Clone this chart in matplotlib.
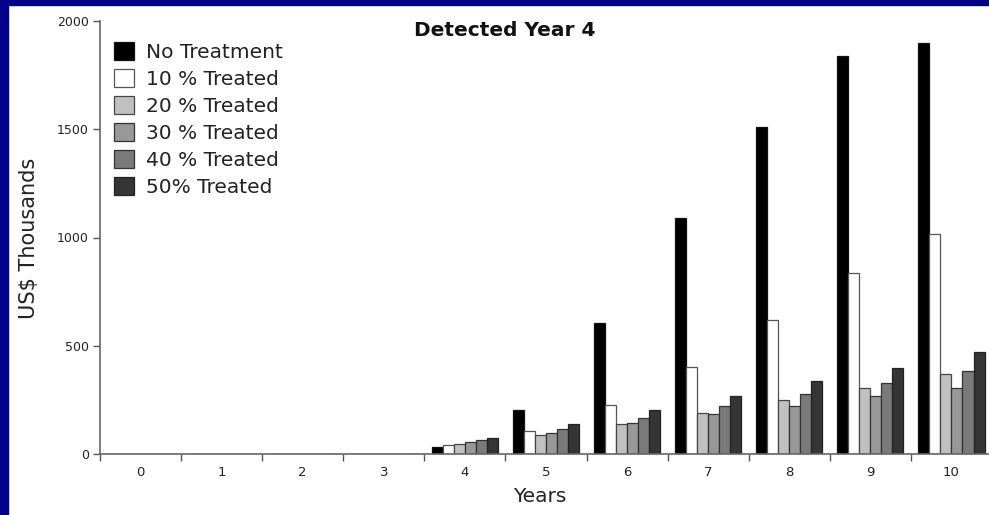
import numpy as np
import matplotlib
matplotlib.use("Agg")
import matplotlib.pyplot as plt
import matplotlib.patches as mpt

years = list(range(11))
series_names = ["No Treatment", "10 % Treated", "20 % Treated",
                "30 % Treated", "40 % Treated", "50% Treated"]
no_treatment = [0, 0, 0, 0, 31, 205, 605, 1090, 1510, 1840, 1900]
treated_10 = [0, 0, 0, 0, 40, 108, 228, 400, 620, 836, 1015]
treated_20 = [0, 0, 0, 0, 44, 88, 140, 188, 248, 305, 368]
treated_30 = [0, 0, 0, 0, 55, 97, 145, 185, 223, 268, 305]
treated_40 = [0, 0, 0, 0, 63, 115, 168, 223, 276, 328, 383]
treated_50 = [0, 0, 0, 0, 74, 140, 205, 269, 336, 399, 470]

series = [no_treatment, treated_10, treated_20, treated_30, treated_40, treated_50]
colors = ["#000000", "#ffffff", "#c0c0c0", "#989898", "#7a7a7a", "#353535"]
edges = ["#111111", "#555555", "#444444", "#333333", "#333333", "#222222"]

W, H = 989, 515
fig = plt.figure(figsize=(W / 100, H / 100), dpi=100)
fig.patch.set_facecolor("white")
# navy frame on top and left
fig.patches.append(mpt.Rectangle((0, 1 - 5 / H), 1, 5 / H, transform=fig.transFigure,
                                 color="#000088", zorder=0))
fig.patches.append(mpt.Rectangle((0, 0), 8 / W, 1, transform=fig.transFigure,
                                 color="#000088", zorder=0))

ax = fig.add_axes([100 / W, 61 / H, 892 / W, 433 / H])
ax.set_facecolor("none")

bw = 0.136
x = np.arange(len(years))
for i, (vals, c, ec) in enumerate(zip(series, colors, edges)):
    offs = (i - 2.5) * bw
    ax.bar(x + offs, vals, width=bw, color=c, edgecolor=ec, linewidth=0.9,
           label=series_names[i], zorder=2)

ax.set_xlim(-0.5, 10.5)
ax.set_ylim(0, 2000)
ax.set_yticks([0, 500, 1000, 1500, 2000])
ax.set_xticks(x)
ax.set_xticklabels([str(y) for y in years])
ax.set_xticks(np.arange(-0.5, 10.5, 1), minor=True)
ax.tick_params(axis="x", which="major", length=0, labelsize=9.5, pad=9, colors="#222222")
ax.tick_params(axis="x", which="minor", length=5, width=1, color="#555555")
ax.tick_params(axis="y", length=5, width=1, color="#555555", labelsize=9,
               labelcolor="#222222", pad=3)

for s in ["top", "right"]:
    ax.spines[s].set_visible(False)
for s in ["left", "bottom"]:
    ax.spines[s].set_color("#666666")
    ax.spines[s].set_linewidth(1.2)

fig.text(29 / W, 1 - 238 / H, "US$ Thousands", rotation=90, ha="center", va="center",
         fontsize=15, color="#222222")
fig.text(540 / W, 1 - 497 / H, "Years", ha="center", va="center", fontsize=14.5,
         color="#222222")
fig.text(505 / W, 1 - 30 / H, "Detected Year 4", ha="center", va="center",
         fontsize=14.5, fontweight="bold", color="#111111")

leg = ax.legend(loc="upper left", bbox_to_anchor=(6 / 892, 1 - 13 / 433), frameon=False,
                fontsize=14.5, handlelength=1.0, handleheight=1.0, handletextpad=0.6,
                labelspacing=0.35, borderaxespad=0)
for t in leg.get_texts():
    t.set_color("#222222")

fig.savefig("out.png", dpi=100)
